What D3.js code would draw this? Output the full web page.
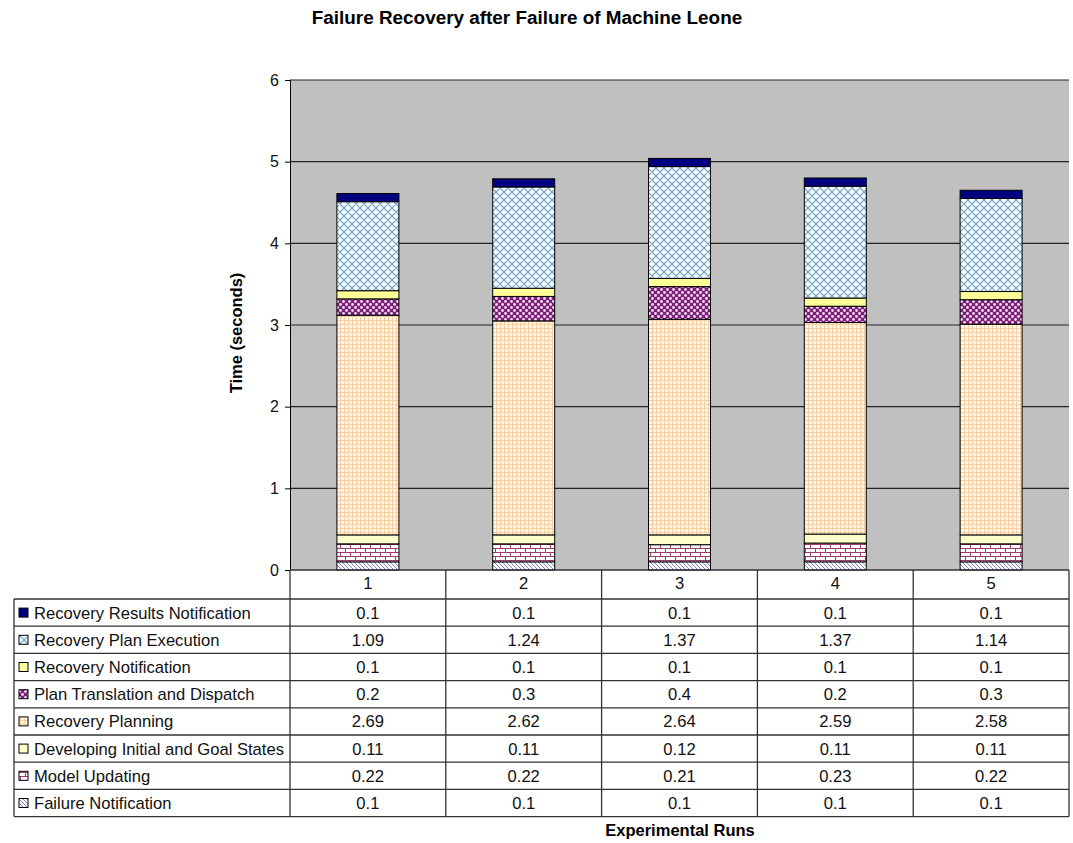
<!DOCTYPE html>
<html>
<head>
<meta charset="utf-8">
<script src="https://cdn.jsdelivr.net/npm/d3@7"></script>
<style>
  body { margin: 0; background: #fff; }
  svg { display: block; font-family: "Liberation Sans", Arial, sans-serif; }
</style>
</head>
<body>
<svg id="chart" width="1073" height="843"></svg>
<script>
// Experimental runs (x categories)
const runs = ["1", "2", "3", "4", "5"];

// Phase names, listed bottom of stack first
const phases = [
  "Failure Notification",
  "Model Updating",
  "Developing Initial and Goal States",
  "Recovery Planning",
  "Plan Translation and Dispatch",
  "Recovery Notification",
  "Recovery Plan Execution",
  "Recovery Results Notification"
];

// Time per phase per run (seconds)
const failureNotification   = [0.1, 0.1, 0.1, 0.1, 0.1];
const modelUpdating         = [0.22, 0.22, 0.21, 0.23, 0.22];
const developingStates      = [0.11, 0.11, 0.12, 0.11, 0.11];
const recoveryPlanning      = [2.69, 2.62, 2.64, 2.59, 2.58];
const planTranslation       = [0.2, 0.3, 0.4, 0.2, 0.3];
const recoveryNotification  = [0.1, 0.1, 0.1, 0.1, 0.1];
const recoveryPlanExecution = [1.09, 1.24, 1.37, 1.37, 1.14];
const recoveryResults       = [0.1, 0.1, 0.1, 0.1, 0.1];

const yTicks = [0, 1, 2, 3, 4, 5, 6];

const seriesValues = [
  failureNotification, modelUpdating, developingStates, recoveryPlanning,
  planTranslation, recoveryNotification, recoveryPlanExecution, recoveryResults
];

const rows = runs.map((r, i) => {
  const o = { run: r };
  phases.forEach((p, j) => { o[p] = seriesValues[j][i]; });
  return o;
});

const svg = d3.select("#chart");

// ---------- fill patterns ----------
const defs = svg.append("defs");

function pat(id, w, h, bg, draw) {
  const p = defs.append("pattern").attr("id", id)
    .attr("patternUnits", "userSpaceOnUse").attr("width", w).attr("height", h);
  p.append("rect").attr("width", w).attr("height", h).attr("fill", bg);
  draw(p);
}

// back-slash hatch (Failure Notification)
pat("pFail", 4, 4, "#ffffff", p => {
  p.append("path").attr("d", "M-1,3 L1,5 M0,0 L4,4 M3,-1 L5,1")
    .attr("stroke", "#8a7fc0").attr("stroke-width", 1);
});
// brick (Model Updating)
pat("pModel", 10, 8, "#ffffff", p => {
  p.append("path").attr("d", "M0,0.5 H10 M0,4.5 H10 M0.5,0 V4 M5.5,4 V8")
    .attr("stroke", "#9c3b6e").attr("stroke-width", 1).attr("fill", "none");
});
// pale yellow (Developing Initial and Goal States)
pat("pDev", 4, 4, "#ffffcc", p => {});
// grid (Recovery Planning)
pat("pPlan", 4, 4, "#fff6ea", p => {
  p.append("path").attr("d", "M0,0.5 H4 M0.5,0 V4")
    .attr("stroke", "#f6cfa2").attr("stroke-width", 1).attr("fill", "none");
});
// large checker dots (Plan Translation and Dispatch)
pat("pTrans", 6, 6, "#7d1f78", p => {
  p.append("circle").attr("cx", 1.5).attr("cy", 1.5).attr("r", 1.4).attr("fill", "#f0dcf0");
  p.append("circle").attr("cx", 4.5).attr("cy", 4.5).attr("r", 1.4).attr("fill", "#f0dcf0");
});
// solid pale yellow (Recovery Notification)
pat("pNotif", 4, 4, "#ffff99", p => {});
// diagonal lattice (Recovery Plan Execution)
pat("pExec", 8, 8, "#f4fbff", p => {
  p.append("path").attr("d", "M0,0 L8,8 M8,0 L0,8 M-1,7 L1,9 M7,-1 L9,1 M-1,1 L1,-1 M7,9 L9,7")
    .attr("stroke", "#6f9cbf").attr("stroke-width", 1.1).attr("fill", "none");
});
// solid navy (Recovery Results Notification)
pat("pRes", 4, 4, "#000080", p => {});

const fills = ["url(#pFail)", "url(#pModel)", "url(#pDev)", "url(#pPlan)",
               "url(#pTrans)", "url(#pNotif)", "url(#pExec)", "url(#pRes)"];

// ---------- layout ----------
const plot = { left: 290, right: 1069, top: 80, bottom: 570 };
const tableLeft = 14;
const headerBottom = 599;
const rowH = 27.2;
const fontSize = 16.6;

const x = d3.scaleBand().domain(runs).range([plot.left, plot.right]).paddingInner(0).paddingOuter(0);
const y = d3.scaleLinear().domain([0, 6]).range([plot.bottom, plot.top]);
const barW = 62;

// title
svg.append("text").attr("x", 527).attr("y", 24).attr("text-anchor", "middle")
  .attr("font-weight", "bold").attr("font-size", 18.9).text("Failure Recovery after Failure of Machine Leone");

// plot background
svg.append("rect").attr("x", plot.left).attr("y", plot.top)
  .attr("width", plot.right - plot.left).attr("height", plot.bottom - plot.top)
  .attr("fill", "#c0c0c0");

// gridlines
svg.append("g").selectAll("line").data(yTicks.filter(t => t > 0)).join("line")
  .attr("x1", plot.left).attr("x2", plot.right)
  .attr("y1", d => y(d)).attr("y2", d => y(d))
  .attr("stroke", "#222").attr("stroke-width", 1.2);

// y axis
const yAxis = d3.axisLeft(y).tickValues(yTicks).tickSize(5).tickPadding(6).tickFormat(d3.format("d"));
const yg = svg.append("g").attr("transform", `translate(${plot.left},0)`).call(yAxis);
yg.select(".domain").attr("stroke", "#000");
yg.selectAll(".tick line").attr("stroke", "#000");
yg.selectAll("text").attr("font-size", 16).attr("fill", "#111")
  .attr("font-family", "Liberation Sans, Arial, sans-serif");

svg.append("text").attr("transform", `translate(242,333) rotate(-90)`)
  .attr("text-anchor", "middle").attr("font-weight", "bold").attr("font-size", 16.5)
  .text("Time (seconds)");

// stacked bars
const stack = d3.stack().keys(phases)(rows);
svg.append("g").selectAll("g").data(stack).join("g")
  .attr("fill", (d, i) => fills[i])
  .selectAll("rect").data(d => d).join("rect")
  .attr("x", d => x(d.data.run) + x.bandwidth() / 2 - barW / 2)
  .attr("width", barW)
  .attr("y", d => y(d[1]))
  .attr("height", d => y(d[0]) - y(d[1]))
  .attr("stroke", "#000").attr("stroke-width", 1);

// ---------- data table ----------
const tg = svg.append("g");
const tableBottom = headerBottom + rowH * phases.length;

// header cells (run numbers)
tg.selectAll("text.hdr").data(runs).join("text").attr("class", "hdr")
  .attr("x", d => x(d) + x.bandwidth() / 2).attr("y", 589)
  .attr("text-anchor", "middle").attr("font-size", fontSize).attr("fill", "#111").text(d => d);

// rows: top row is the top of the stack
const tableRows = phases.slice().reverse();
tableRows.forEach((p, r) => {
  const rowTop = headerBottom + r * rowH;
  const cy = rowTop + rowH / 2 + 6;
  const idx = phases.indexOf(p);
  // legend key
  tg.append("rect").attr("x", 19).attr("y", rowTop + rowH / 2 - 4.5).attr("width", 9).attr("height", 9)
    .attr("fill", fills[idx]).attr("stroke", "#000").attr("stroke-width", 1);
  tg.append("text").attr("x", 34).attr("y", cy).attr("font-size", fontSize).attr("fill", "#111").text(p);
  runs.forEach((run, i) => {
    tg.append("text").attr("x", x(run) + x.bandwidth() / 2).attr("y", cy)
      .attr("text-anchor", "middle").attr("font-size", fontSize).attr("fill", "#111")
      .text(seriesValues[idx][i]);
  });
});

// horizontal table lines
const hLines = d3.range(phases.length + 1).map(i => headerBottom + i * rowH);
tg.selectAll("line.h").data(hLines).join("line").attr("class", "h")
  .attr("x1", tableLeft).attr("x2", plot.right)
  .attr("y1", d => d).attr("y2", d => d)
  .attr("stroke", "#333").attr("stroke-width", 1.3);
// header bottom edge under plot
tg.append("line").attr("x1", plot.left).attr("x2", plot.right)
  .attr("y1", plot.bottom).attr("y2", plot.bottom).attr("stroke", "#333").attr("stroke-width", 1.3);
// vertical table lines
const vLines = runs.map(r => x(r)).concat([plot.right]);
tg.selectAll("line.v").data(vLines).join("line").attr("class", "v")
  .attr("x1", d => d).attr("x2", d => d)
  .attr("y1", plot.bottom).attr("y2", tableBottom)
  .attr("stroke", "#333").attr("stroke-width", 1.3);
tg.append("line").attr("x1", tableLeft).attr("x2", tableLeft)
  .attr("y1", headerBottom).attr("y2", tableBottom).attr("stroke", "#333").attr("stroke-width", 1.3);

// x axis title
svg.append("text").attr("x", 680).attr("y", 836).attr("text-anchor", "middle")
  .attr("font-weight", "bold").attr("font-size", 16.5).text("Experimental Runs");
</script>
</body>
</html>
